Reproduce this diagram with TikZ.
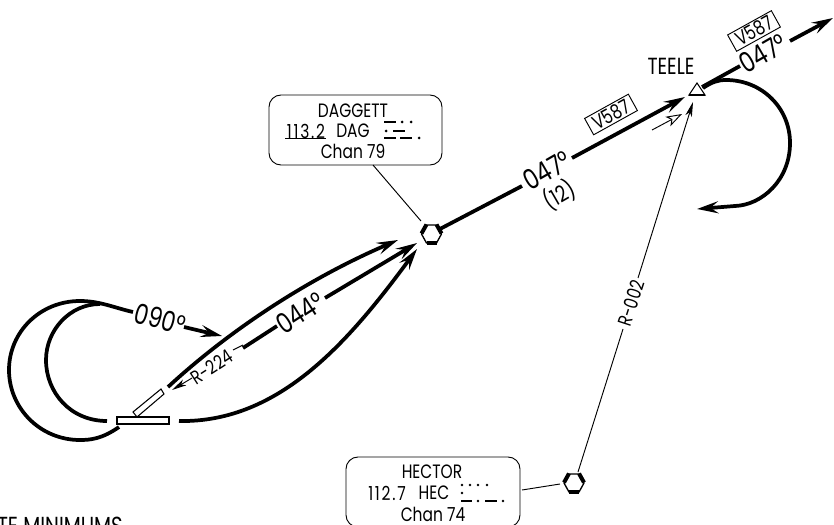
\documentclass[tikz,border=0pt]{standalone}
\usepackage{fontspec}
\setmainfont[FakeStretch=0.8]{Poppins}
\usetikzlibrary{arrows.meta,calc}
\tikzset{
  heavy/.style={line width=2.8pt,line cap=butt},
  route/.style={heavy,-{Stealth[length=16pt,width=9pt,inset=6pt]}},
  thin line/.style={line width=0.7pt},
  thinarrow/.style={line width=0.7pt,-{Stealth[length=11pt,width=5pt,inset=3pt]}},
  openarrow/.style={line width=0.7pt,-{Stealth[open,length=12pt,width=8pt,inset=3pt,fill=white]}},
  lbl/.style={inner sep=0pt,font=\fontsize{14.5}{16}\selectfont},
  freq/.style={inner sep=0pt,font=\fontsize{14.5}{16}\selectfont\addfontfeature{LetterSpace=9}},
  biglbl/.style={inner sep=0pt,font=\fontsize{21}{23}\selectfont},
  midlbl/.style={inner sep=0pt,font=\fontsize{17}{19}\selectfont},
  info/.style={draw,line width=0.7pt,rounded corners=9pt,inner sep=0pt},
  vbox/.style={draw,line width=0.7pt,inner sep=0pt,minimum width=37.5pt,minimum height=14pt,fill=white,font=\fontsize{15}{17}\selectfont},
  morse/.style={line width=2.2pt},
  hexv/.style={draw,line width=1pt,fill=white},
}
\newcommand{\vorsym}[2]{%
  \draw[hexv,line join=round] (#1,#2) ++(-10,0) -- ++(5,-9) -- ++(10,0) -- ++(5,9) -- ++(-5,9) -- ++(-10,0) -- cycle;
  \draw[line width=3pt] (#1-5,#2+9) -- ++(10,0);
  \draw[line width=3pt] (#1-10,#2-0.5) -- ++(5,-9);
  \draw[line width=3pt] (#1+10,#2-0.5) -- ++(-5,-9);
}
\begin{document}
\begin{tikzpicture}[x=0.75pt,y=-0.75pt]
\useasboundingbox (0,0) rectangle (834,524);
% holding patterns left
\draw[heavy] (119,427) .. controls (102,439) and (90,440) .. (80,440)
  .. controls (40,440) and (9,408) .. (9,370)
  .. controls (9,332) and (40,301) .. (80,301)
  .. controls (100,301) and (115,308) .. (133,312);
\draw[heavy] (107,421) .. controls (70,421) and (46,392) .. (46,360)
  .. controls (46,330) and (70,304) .. (100,304);
% 090 arrow
\draw[route] (184,327) -- (222,336);
\node[biglbl,rotate=-15] (l090) at (160,319) {090°};
% runways
\draw[line width=0.8pt,fill=white] (117,417) rectangle (169,424);
\draw[line width=0.8pt,fill=white] (133,412) -- (161,389) -- (164,394) -- (137,417) -- cycle;
% curves into DAGGETT
\draw[route] (168,387) .. controls (222,337) and (300,282) .. (398,240);
\draw[route] (179,421) .. controls (280,423) and (350,340) .. (417,249);
\draw[heavy] (243,348) -- (277,326);
\draw[route] (325,298) -- (417,243);
\draw[line width=0.7pt] (233,350) -- (243,345);
\draw[thinarrow] (192,378) -- (172,390);
\node[lbl,rotate=33] (r224) at (212,367) {R-224};
\node[biglbl,rotate=33] (l044) at (300,313) {044°};
% VOR DAGGETT
\node[info,minimum width=129.75pt,minimum height=52.5pt] (dagbox) at (355.5,130) {};
\coordinate (dagcon) at (373,165);
\coordinate (dagend) at (421,221);
\draw[thin line] (dagcon) -- (dagend);
\node[lbl] (dagn) at (353,111) {DAGGETT};
\node[freq] (dagf) at (306,131) {113.2};
\draw[line width=0.6pt] (285,138.5) -- (326,138.5);
\node[lbl] (dagid) at (353,131) {DAG};
\node[lbl] (dagc) at (353,151) {Chan 79};
\foreach \a/\b/\y in {384/396/122, 393/405/131, 384/396/138, 400/412/138}
  \draw[morse] (\a,\y) -- (\b,\y);
\foreach \x/\y in {402/122, 411/122, 386/131, 419/138}
  \fill (\x,\y) circle (1.5);
\vorsym{431.5}{234}
% route 047
\draw[heavy] (438,230) -- (522,186);
\node[biglbl,rotate=30] (l047) at (547,170) {047°};
\node[midlbl,rotate=30] (l12) at (559,195) {(12)};
\draw[route] (572,158) -- (685,97);
\node[vbox,rotate=29] (v1) at (611,114.5) {V587};
\draw[openarrow] (652,130) -- (682,114);
% TEELE
\node[lbl,font=\fontsize{17.5}{19}\selectfont] (teele) at (671,66) {TEELE};
\draw[line width=0.8pt,fill=white] (697,83) -- (705,95) -- (689,95) -- cycle;
\draw[line width=1.5pt] (689,95) -- (705,95);
\draw[heavy] (702,87) -- (740,66);
\node[biglbl,rotate=30] (l047b) at (763,53) {047°};
\draw[route] (790,41) -- (833,18);
\node[vbox,rotate=29] (v2) at (754,31) {V587};
% hold TEELE
\draw[route] (703,88) .. controls (712,82) and (718,80) .. (726,80)
  .. controls (762,80) and (790,108) .. (790,143)
  .. controls (790,180) and (762,205) .. (735,206) -- (697,209);
% HECTOR
\node[info,minimum width=130.5pt,minimum height=52.5pt] (hecbox) at (433,492) {};
\coordinate (heccon) at (522,490);
\coordinate (hecend) at (560,484);
\draw[thin line] (heccon) -- (hecend);
\node[lbl] (hecn) at (432,472) {HECTOR};
\node[freq] (hecf) at (387,493) {112.7};
\node[lbl] (hecid) at (434,493) {HEC};
\node[lbl] (hecc) at (433,514) {Chan 74};
\foreach \x in {462,470,478,487} \fill (\x,485) circle (1.4);
\fill (462,493) circle (1.4);
\fill (478,501) circle (1.4);
\fill (503,501) circle (1.4);
\draw[morse] (461,501) -- (472,501);
\draw[morse] (485,501) -- (497,501);
\vorsym{574}{483}
% R-002
\coordinate (rlow) at (578,472);
\coordinate (rhigh) at (693,102);
\draw[thin line] (rlow) -- (623,329);
\draw[thinarrow] (638,278) -- (rhigh);
\node[lbl,rotate=72] (r002) at (631,303) {R-002};
% footer
\node[anchor=base west,inner sep=0pt,font=\fontsize{18.5}{20}\selectfont] (foot) at (-3,534) {TE MINIMUMS};
\end{tikzpicture}
\end{document}
